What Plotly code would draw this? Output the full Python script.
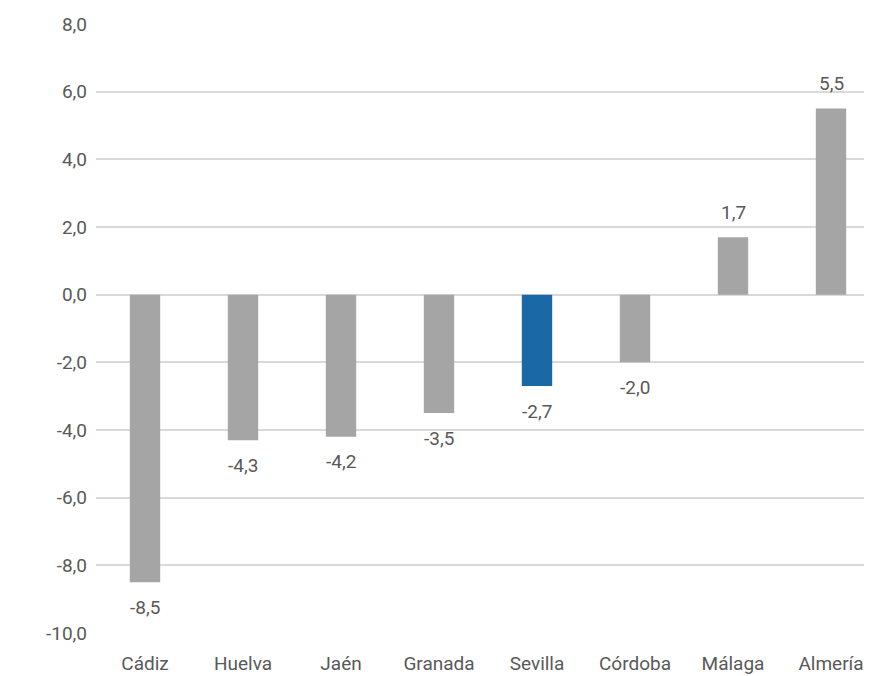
import plotly.graph_objects as go

provincias = ["Cádiz", "Huelva", "Jaén", "Granada", "Sevilla", "Córdoba", "Málaga", "Almería"]
valores = [-8.5, -4.3, -4.2, -3.5, -2.7, -2.0, 1.7, 5.5]
ticks_y = [-10, -8, -6, -4, -2, 0, 2, 4, 6, 8]
colores = ["#1A68A6" if p == "Sevilla" else "#A5A5A5" for p in provincias]


def fmt(v):
    return f"{v:.1f}".replace(".", ",")


fig = go.Figure()
fig.add_trace(go.Bar(
    x=provincias, y=valores, marker_color=colores, marker_line_width=0,
    hoverinfo="skip",
))

# etiquetas de datos, separadas del extremo de la barra
for p, v in zip(provincias, valores):
    fig.add_annotation(x=p, y=v, text=fmt(v), showarrow=False,
                       yanchor="middle", yshift=25 if v > 0 else -25,
                       font=dict(size=19, color="#595959"))

fig.update_layout(
    width=872, height=668,
    margin=dict(l=88, r=0, t=16, b=43),
    paper_bgcolor="white", plot_bgcolor="white",
    bargap=0.69,
    showlegend=False,
    font=dict(family="Roboto", size=19, color="#595959"),
)
fig.update_yaxes(range=[-10, 8], tickvals=ticks_y, ticktext=[fmt(t) for t in ticks_y],
                 showgrid=True, gridcolor="#D9D9D9", gridwidth=1.5, zeroline=True,
                 zerolinecolor="#D9D9D9", zerolinewidth=1.5, ticks="", ticklabelstandoff=8)
fig.update_xaxes(showgrid=False, showline=False, ticks="", ticklabelstandoff=17)

fig.write_html("out.html")
